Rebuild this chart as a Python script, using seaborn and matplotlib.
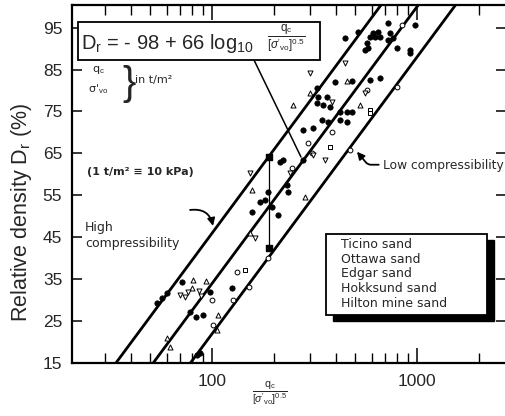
import numpy as np
import pandas as pd
import matplotlib
matplotlib.use("Agg")
import matplotlib.pyplot as plt
from matplotlib.patches import Rectangle
from matplotlib.lines import Line2D
from matplotlib.ticker import FixedLocator, NullFormatter, FixedFormatter
import seaborn as sns

# ---------------------------------------------------------------- data
# Correlation Dr = A + 66 log10( qc / (sigma'vo)^0.5 ), qc and sigma'vo in t/m2
slope = 66
intercept_high = -86   # high compressibility bound
intercept_mean = -98   # fitted relation
intercept_low = -110   # low compressibility bound

sands = ["Ticino sand", "Ottawa sand", "Edgar sand", "Hokksund sand", "Hilton mine sand"]

ticino_q = [54, 57, 60, 71.5, 78, 83, 90, 98, 125, 215, 235, 232, 210, 188, 196, 182, 171,
            157, 222, 278, 278, 311, 344, 368, 421, 456, 325, 348, 376, 421, 456, 482, 325,
            329, 364, 398, 482, 590, 660, 722, 978, 515, 446, 610, 646, 590, 624, 660, 738,
            764, 722, 570, 577, 557, 798, 925, 925, 84.5, 87]
ticino_dr = [29.3, 30.5, 31.7, 34.3, 27.2, 26.0, 26.5, 31.9, 32.9, 63.0, 55.8, 57.5, 50.3,
             55.8, 52.2, 53.9, 53.4, 51.0, 63.4, 63.4, 70.6, 71.1, 73.0, 72.5, 73.0, 72.5,
             77.1, 76.6, 76.1, 74.9, 74.9, 74.9, 80.6, 78.5, 78.5, 82.1, 82.3, 82.5, 83.0,
             96.1, 95.7, 94.0, 92.6, 93.8, 94.0, 92.8, 92.8, 92.8, 93.8, 92.6, 92.1, 91.4,
             90.2, 89.7, 90.2, 89.7, 89.0, 16.9, 17.4]

ottawa_q = [100, 151, 132, 385, 294, 307, 845, 570, 798, 188, 246, 101, 127, 471]
ottawa_dr = [30.0, 33.1, 36.7, 70.1, 67.5, 65.1, 95.7, 80.2, 80.9, 40.1, 61.5, 24.1, 30.0, 65.8]

edgar_q = [81, 93.5, 80, 60, 62, 107, 157, 284, 153, 301, 248, 527, 456, 106]
edgar_dr = [34.8, 34.6, 32.9, 21.0, 18.8, 26.5, 56.3, 54.6, 46.0, 79.4, 76.6, 76.6, 82.3, 22.9]

hokksund_q = [70, 74, 76, 301, 446, 557, 385, 240, 153, 162, 311, 356, 88, 86]
hokksund_dr = [31.2, 30.8, 31.9, 84.2, 86.6, 79.4, 77.3, 60.3, 60.3, 44.8, 64.6, 63.4, 31.0, 32.1]

hilton_q = [376, 145, 590, 590]
hilton_dr = [66.5, 37.2, 75.4, 74.6]

# spread of one test series across the band
range_q = 190
range_dr = [42.4, 64.2]

x_ticks_major = [100, 1000]
x_ticks_minor = [30, 40, 50, 60, 70, 80, 90, 200, 300, 400, 500, 600, 700, 800, 900, 2000]
y_ticks = [15, 25, 35, 45, 55, 65, 75, 85, 95]

# ---------------------------------------------------------------- style
sns.set_theme(style="white")
plt.rcParams["font.family"] = ["Liberation Sans", "DejaVu Sans"]
plt.rcParams["mathtext.fontset"] = "custom"
plt.rcParams["mathtext.rm"] = "Liberation Sans"
plt.rcParams["mathtext.it"] = "Liberation Sans:italic"
plt.rcParams["mathtext.sf"] = "Liberation Sans"

W, H = 506, 416
fig = plt.figure(figsize=(W / 100, H / 100), dpi=100)
ax = fig.add_axes([72 / W, 53 / H, 434 / W, 358 / H])


def fpos(x, y):
    """pixel position (from top-left) -> figure fraction"""
    return x / W, 1 - y / H


frames = []
for name, q, dr in [("Ticino sand", ticino_q, ticino_dr), ("Ottawa sand", ottawa_q, ottawa_dr),
                    ("Edgar sand", edgar_q, edgar_dr), ("Hokksund sand", hokksund_q, hokksund_dr),
                    ("Hilton mine sand", hilton_q, hilton_dr)]:
    frames.append(pd.DataFrame({"q": q, "dr": dr, "sand": name}))
df = pd.concat(frames, ignore_index=True)

marker_style = {
    "Ticino sand": dict(marker="o", s=15, facecolor="black", edgecolor="black", linewidth=0.5),
    "Ottawa sand": dict(marker="o", s=12, facecolor="white", edgecolor="black", linewidth=0.7),
    "Edgar sand": dict(marker="^", s=13, facecolor="white", edgecolor="black", linewidth=0.7),
    "Hokksund sand": dict(marker="v", s=13, facecolor="white", edgecolor="black", linewidth=0.7),
    "Hilton mine sand": dict(marker="s", s=11, facecolor="white", edgecolor="black", linewidth=0.7),
}

ax.set_xscale("log")
ax.set_xlim(20.7, 2717)
ax.set_ylim(15, 100.4)

# correlation lines
dr_line = np.array([10.0, 105.0])
for b in (intercept_high, intercept_mean, intercept_low):
    q_line = 10 ** ((dr_line - b) / slope)
    sns.lineplot(x=q_line, y=dr_line, ax=ax, color="black", lw=2.0, sort=False,
                 legend=False, zorder=3)

for name in sands:
    sub = df[df["sand"] == name]
    st = marker_style[name]
    sns.scatterplot(data=sub, x="q", y="dr", ax=ax, marker=st["marker"], s=st["s"],
                    color=st["facecolor"], edgecolor=st["edgecolor"], linewidth=st["linewidth"],
                    legend=False, zorder=4)

# range bar
ax.plot([range_q, range_q], range_dr, color="black", lw=0.9, zorder=3)
ax.scatter([range_q, range_q], range_dr, s=18, marker="s", color="black", zorder=4)

# ---------------------------------------------------------------- axes
for side in ("left", "bottom", "top"):
    ax.spines[side].set_linewidth(1.6)
    ax.spines[side].set_color("black")
ax.spines["right"].set_visible(False)

ax.xaxis.set_major_locator(FixedLocator(x_ticks_major))
ax.xaxis.set_major_formatter(FixedFormatter([str(v) for v in x_ticks_major]))
ax.xaxis.set_minor_locator(FixedLocator(x_ticks_minor))
ax.xaxis.set_minor_formatter(NullFormatter())
ax.set_yticks(y_ticks)
ax.set_yticklabels([str(v) for v in y_ticks])

ax.tick_params(axis="x", which="major", direction="in", length=11, width=1.1,
               top=True, bottom=True, labelsize=12.5, pad=8, color="black")
ax.tick_params(axis="x", which="minor", direction="in", length=7, width=1.0,
               top=True, bottom=True, color="black")
ax.tick_params(axis="y", which="major", direction="in", length=7.5, width=1.1,
               left=True, right=True, labelsize=12.5, pad=7, color="black")

ax.set_ylabel(r"Relative density D$_\mathrm{r}$ (%)", fontsize=15.5)
ax.yaxis.set_label_coords(-0.0876, 0.42)
ax.set_xlabel(r"$\frac{\mathrm{q_c}}{[\sigma'_{\mathrm{vo}}]^{0.5}}$", fontsize=11)
ax.xaxis.set_label_coords(0.456, -0.045)

# ---------------------------------------------------------------- annotations
# equation box
fig.patches.append(Rectangle(fpos(78, 60), 242 / W, 38 / H, transform=fig.transFigure,
                             facecolor="white", edgecolor="black", lw=1.3, zorder=5))
fig.text(*fpos(81, 49), r"D$_\mathrm{r}$ = - 98 + 66 log$_{10}$", fontsize=14.5,
         va="baseline", ha="left", zorder=6)
fig.text(*fpos(286, 39), r"$\frac{\mathrm{q_c}}{[\sigma'_{\mathrm{vo}}]^{0.5}}$", fontsize=12,
         va="center", ha="center", zorder=6)
fig.lines.append(Line2D([254 / W, 301 / W], [1 - 60 / H, 1 - 157 / H],
                        transform=fig.transFigure, color="black", lw=1.1, zorder=4))

# units note
small = ["DejaVu Sans"]
fig.text(*fpos(98, 70), r"q$_\mathrm{c}$", fontsize=8, ha="center", va="center", family=small)
fig.text(*fpos(98, 89), r"σ'$_\mathrm{vo}$", fontsize=8, ha="center", va="center", family=small)
fig.text(*fpos(129, 84), "}", fontsize=29, ha="center", va="center", fontweight="light")
fig.text(*fpos(135, 80), "in t/m²", fontsize=8, ha="left", va="center", family=small)
fig.text(*fpos(87, 172), "(1 t/m² ≡ 10 kPa)", fontsize=8, ha="left", va="center",
         family=small, fontweight="bold")

# compressibility labels
fig.text(*fpos(85, 235), "High\ncompressibility", fontsize=9, ha="left", va="center",
         family=small, linespacing=1.3)
ax.annotate("", xy=(101, 47.7), xytext=(78, 51.5),
            arrowprops=dict(arrowstyle="-|>", color="black", lw=1.3, mutation_scale=11,
                            connectionstyle="arc3,rad=-0.45", shrinkA=0, shrinkB=0))
fig.text(*fpos(383, 165), "Low compressibility", fontsize=8.8, ha="left", va="center",
         family=small)
ax.annotate("", xy=(509, 65.4), xytext=(650, 62.3),
            arrowprops=dict(arrowstyle="-|>", color="black", lw=1.3, mutation_scale=11,
                            connectionstyle="angle,angleA=180,angleB=-50,rad=3",
                            shrinkA=0, shrinkB=0))

# legend with drop shadow
fig.patches.append(Rectangle(fpos(333, 321), 161 / W, 81 / H, transform=fig.transFigure,
                             facecolor="black", edgecolor="black", lw=1, zorder=5))
fig.patches.append(Rectangle(fpos(326, 315), 161 / W, 81 / H, transform=fig.transFigure,
                             facecolor="white", edgecolor="black", lw=1.3, zorder=6))
handles = [Line2D([], [], linestyle="none", marker=None) for _ in sands]
leg = fig.legend(handles, sands, loc="upper left", bbox_to_anchor=fpos(341, 238),
                 bbox_transform=fig.transFigure, frameon=False, handlelength=0,
                 handletextpad=0, borderpad=0, borderaxespad=0, labelspacing=0.14,
                 prop={"family": "DejaVu Sans", "size": 9})
leg.set_zorder(7)

fig.savefig("out.png", dpi=100)
